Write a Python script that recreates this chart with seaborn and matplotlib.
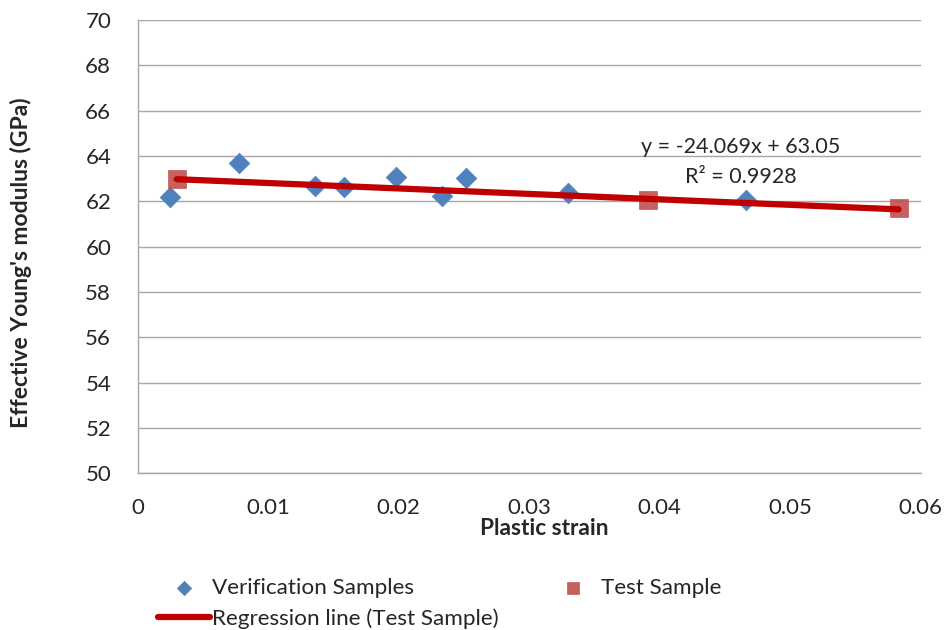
import numpy as np
import pandas as pd
import matplotlib
matplotlib.use("Agg")
import matplotlib.pyplot as plt
import seaborn as sns

# values
verif_strain = [0.0025, 0.0078, 0.0136, 0.0158, 0.0198, 0.0233, 0.0252, 0.0330, 0.0466]
verif_modulus = [62.19, 63.69, 62.68, 62.63, 63.07, 62.24, 63.03, 62.37, 62.06]
test_strain = [0.0030, 0.0391, 0.0583]
test_modulus = [62.99, 62.05, 61.70]
slope, intercept = -24.069, 63.05
r_squared = 0.9928

verif = pd.DataFrame({"strain": verif_strain, "modulus": verif_modulus})
test = pd.DataFrame({"strain": test_strain, "modulus": test_modulus})
reg_x = [min(test_strain), max(test_strain)]
reg = pd.DataFrame({"strain": reg_x, "modulus": [slope * x + intercept for x in reg_x]})

sns.set_style("white")
plt.rcParams["font.family"] = ["Lato", "DejaVu Sans"]

fig = plt.figure(figsize=(9.46, 6.3), dpi=100)
ax = fig.add_axes([0.1454, 0.2487, 0.8279, 0.7195])

sns.lineplot(data=reg, x="strain", y="modulus", ax=ax, color="#C00000", linewidth=4.5,
             label="Regression line (Test Sample)", zorder=3)
sns.scatterplot(data=verif, x="strain", y="modulus", ax=ax, marker="D", s=110,
                color="#4F81BD", edgecolor="#4F81BD", linewidth=0.5,
                label="Verification Samples", zorder=2)
sns.scatterplot(data=test, x="strain", y="modulus", ax=ax, marker="s", s=170,
                color="#C0504D", edgecolor="#C0504D", linewidth=0.5, alpha=0.9,
                label="Test Sample", zorder=2)

ax.set_xlim(0, 0.06)
ax.set_ylim(50, 70)
ax.set_xticks(np.arange(0, 0.061, 0.01))
ax.set_xticklabels(["0", "0.01", "0.02", "0.03", "0.04", "0.05", "0.06"])
ax.set_yticks(np.arange(50, 71, 2))
ax.yaxis.grid(True, color="#A6A6A6", linewidth=1)
ax.set_axisbelow(True)
for side in ["top", "right"]:
    ax.spines[side].set_visible(False)
for side in ["left", "bottom"]:
    ax.spines[side].set_color("#A6A6A6")
    ax.spines[side].set_linewidth(1)
ax.tick_params(axis="x", direction="in", length=6, color="#A6A6A6", labelsize=16, pad=18)
ax.tick_params(axis="y", direction="out", length=4, color="#A6A6A6", labelsize=16, pad=15)
ax.set_xlabel("Plastic strain", fontsize=16.3, fontweight="bold")
ax.xaxis.set_label_coords(0.519, -0.098)
ax.set_ylabel("Effective Young's modulus (GPa)", fontsize=16.5, fontweight="bold")
ax.yaxis.set_label_coords(-0.135, 0.464)

ax.text(0.0462, 64.4, f"y = {slope}x + {intercept}", fontsize=15.5, ha="center", va="center")
ax.text(0.0462, 63.07, f"R² = {r_squared}", fontsize=15.5, ha="center", va="center")

handles, labels = ax.get_legend_handles_labels()
ax.get_legend().remove()
order = [labels.index("Verification Samples"), labels.index("Regression line (Test Sample)"),
         labels.index("Test Sample")]
fig.legend([handles[i] for i in order], [labels[i] for i in order],
           loc="upper left", bbox_to_anchor=(0.1668, 0.083), ncol=2, frameon=False,
           fontsize=16.2, handlelength=2.3, handletextpad=0.1, columnspacing=2.15,
           labelspacing=0.48, markerscale=0.7, borderaxespad=0, borderpad=0)

fig.savefig("out.png", dpi=100)
